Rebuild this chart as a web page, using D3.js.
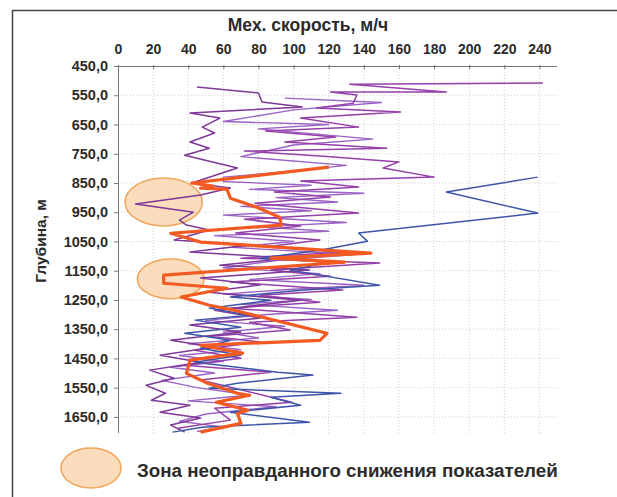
<!DOCTYPE html>
<html>
<head>
<meta charset="utf-8">
<script src="https://cdn.jsdelivr.net/npm/d3@7/dist/d3.min.js"></script>
<style>
  html, body { margin: 0; padding: 0; background: #fff; }
  svg { display: block; }
  text { font-family: "Liberation Sans", Arial, sans-serif; font-weight: bold; fill: #2b2b2b; }
</style>
</head>
<body>
<svg id="chart" width="617" height="497"></svg>
<script>
// ---- Data ----
const xTicks = [0, 20, 40, 60, 80, 100, 120, 140, 160, 180, 200, 220, 240];
const yTicks = [450, 550, 650, 750, 850, 950, 1050, 1150, 1250, 1350, 1450, 1550, 1650];
const xTitle = "Мех. скорость, м/ч";
const yTitle = "Глубина, м";
const legendLabel = "Зона неоправданного снижения показателей";

// each series: [speed, depth]
const purpleA = [[45,522],[80,542],[82,573],[105,590],[41,611],[58,628],[48,659],[55,679],[41,710],[52,731],[38,755],[68,799],[42,850],[64,867],[47,891],[10,922],[43,950],[35,977],[39,994],[52,1011],[32,1045],[75,1062],[41,1086],[98,1107],[58,1131],[109,1148],[47,1175],[81,1199],[50,1223],[104,1251],[55,1285],[81,1312],[41,1336],[70,1360],[30,1388],[55,1411],[24,1439],[47,1463],[18,1490],[32,1518],[16,1542],[27,1569],[19,1593],[41,1610],[24,1634],[47,1654],[30,1678],[38,1702]];
const purpleB = [[242,508],[132,512],[187,539],[121,539],[136,549],[134,577],[113,594],[161,607],[104,628],[137,659],[84,672],[124,693],[95,710],[153,731],[72,741],[115,758],[160,778],[151,799],[180,830],[104,843],[137,864],[89,881],[121,898],[78,919],[137,953],[72,974],[104,997],[67,1021],[115,1045],[84,1069],[129,1086],[70,1107],[149,1124],[87,1148],[121,1169],[64,1189],[128,1216],[81,1234],[115,1258],[64,1278],[136,1309],[75,1326],[98,1353],[52,1374],[81,1394],[44,1422],[70,1449],[38,1473],[87,1497],[47,1524],[99,1600],[55,1620],[64,1661],[34,1689]];
const purpleC = [[95,560],[150,575],[100,600],[60,640],[120,650],[80,665],[145,700],[100,720],[70,760],[130,790],[90,815],[60,830],[60,845],[110,858],[75,872],[140,885],[90,900],[125,915],[70,930],[110,945],[60,960],[130,985],[80,1000],[120,1015],[55,1030],[100,1050],[65,1070],[135,1095],[90,1115],[60,1140],[115,1160],[75,1180],[140,1200],[95,1215],[60,1230],[110,1248],[70,1265],[125,1285],[85,1300],[50,1320],[95,1340],[60,1360],[80,1380],[40,1400],[70,1420],[35,1440],[60,1460],[30,1480],[55,1500],[25,1525],[45,1550],[75,1575],[40,1595],[90,1615],[50,1640],[35,1665],[60,1685],[45,1700]];
const blue = [[239,830],[187,881],[239,953],[137,1021],[142,1049],[115,1080],[81,1107],[121,1121],[98,1148],[149,1200],[104,1217],[64,1240],[87,1251],[52,1278],[75,1302],[44,1319],[70,1343],[38,1364],[64,1388],[47,1415],[70,1439],[44,1463],[91,1497],[111,1507],[68,1535],[52,1552],[127,1569],[87,1583],[104,1610],[64,1634],[109,1668],[48,1685],[31,1702]];
const orange = [[120,796],[42,850],[54,861],[47,868],[62,871],[64,902],[79,933],[92,967],[93,994],[30,1022],[47,1052],[144,1090],[87,1107],[129,1121],[26,1165],[26,1193],[62,1210],[36,1240],[52,1268],[66,1285],[119,1364],[115,1388],[47,1405],[71,1432],[41,1456],[39,1501],[51,1535],[68,1569],[75,1576],[56,1600],[74,1627],[68,1638],[70,1672],[47,1702]];
// zones: centre speed, centre depth, half-width (speed), half-height (depth)
const zones = [[26, 915, 22, 82], [30, 1178, 19, 68]];

// ---- Layout ----
const svg = d3.select("#chart");
const mLeft = 118, mRight = 557, mTop = 66, mBottom = 433;
const x = d3.scaleLinear().domain([0, 250]).range([mLeft, mRight]);
const y = d3.scaleLinear().domain([450, 1705]).range([mTop, mBottom]);

// frame
svg.append("line").attr("x1", 12).attr("x2", 617).attr("y1", 10.5).attr("y2", 10.5).attr("stroke", "#444").attr("stroke-width", 1.5);
svg.append("line").attr("x1", 12.5).attr("x2", 12.5).attr("y1", 10).attr("y2", 497).attr("stroke", "#444").attr("stroke-width", 1.5);

// grid
const grid = svg.append("g");
grid.selectAll(".gx").data(xTicks.slice(1)).join("line")
  .attr("x1", d => x(d)).attr("x2", d => x(d)).attr("y1", mTop).attr("y2", mBottom)
  .attr("stroke", "#cfcfcf").attr("stroke-dasharray", "1,2");
grid.selectAll(".gy").data(yTicks.slice(1)).join("line")
  .attr("x1", mLeft).attr("x2", mRight).attr("y1", d => y(d)).attr("y2", d => y(d))
  .attr("stroke", "#cfcfcf").attr("stroke-dasharray", "1,2");

// zones
svg.append("g").selectAll("ellipse").data(zones).join("ellipse")
  .attr("cx", d => x(d[0])).attr("cy", d => y(d[1]))
  .attr("rx", d => x(d[2]) - x(0)).attr("ry", d => y(450 + d[3]) - y(450))
  .attr("fill", "#fbdcbc").attr("stroke", "#f0a55a").attr("stroke-width", 1.5);

// axes
const xAxis = d3.axisTop(x).tickValues(xTicks).tickSize(-3).tickPadding(12).tickFormat(d3.format("d"));
const gx = svg.append("g").attr("transform", `translate(0,${mTop})`).call(xAxis);
gx.select(".domain").attr("stroke", "#777").attr("d", `M${mLeft},0.5H${mRight}`);
gx.selectAll(".tick line").attr("stroke", "#777").attr("y1", -1).attr("y2", 3);
gx.selectAll(".tick text").attr("font-size", 14).attr("font-family", "Liberation Sans, Arial, sans-serif").attr("font-weight", "bold").attr("fill", "#2b2b2b");

const yAxis = d3.axisLeft(y).tickValues(yTicks).tickSize(4).tickPadding(6).tickFormat(d => d3.format(".1f")(d).replace(".", ","));
const gy = svg.append("g").attr("transform", `translate(${mLeft},0)`).call(yAxis);
gy.select(".domain").attr("stroke", "#777").attr("d", `M0.5,${mTop}V${mBottom}`);
gy.selectAll(".tick line").attr("stroke", "#777").attr("x2", -4);
gy.selectAll(".tick text").attr("font-size", 14.5).attr("font-family", "Liberation Sans, Arial, sans-serif").attr("font-weight", "bold").attr("fill", "#2b2b2b");

// lines
const line = d3.line().x(d => x(d[0])).y(d => y(d[1]));
const series = [
  { data: purpleC, color: "#9a62c4", width: 1.4 },
  { data: purpleB, color: "#9440a8", width: 1.5 },
  { data: purpleA, color: "#7e3898", width: 1.5 },
  { data: blue, color: "#3d55a8", width: 1.5 },
  { data: orange, color: "#f25a22", width: 3.2 }
];
svg.append("g").selectAll("path").data(series).join("path")
  .attr("d", d => line(d.data)).attr("fill", "none")
  .attr("stroke", d => d.color).attr("stroke-width", d => d.width)
  .attr("stroke-linejoin", "round");

// titles
svg.append("text").attr("x", 308).attr("y", 31).attr("text-anchor", "middle").attr("font-size", 17.5).text(xTitle);
svg.append("text").attr("transform", "translate(46,241) rotate(-90)").attr("text-anchor", "middle").attr("font-size", 15.5).text(yTitle);

// legend
svg.append("ellipse").attr("cx", 91).attr("cy", 468).attr("rx", 30).attr("ry", 20)
  .attr("fill", "#fbdcbc").attr("stroke", "#f0a55a").attr("stroke-width", 1.5);
svg.append("text").attr("x", 137).attr("y", 477).attr("font-size", 18.8).text(legendLabel);
</script>
</body>
</html>
